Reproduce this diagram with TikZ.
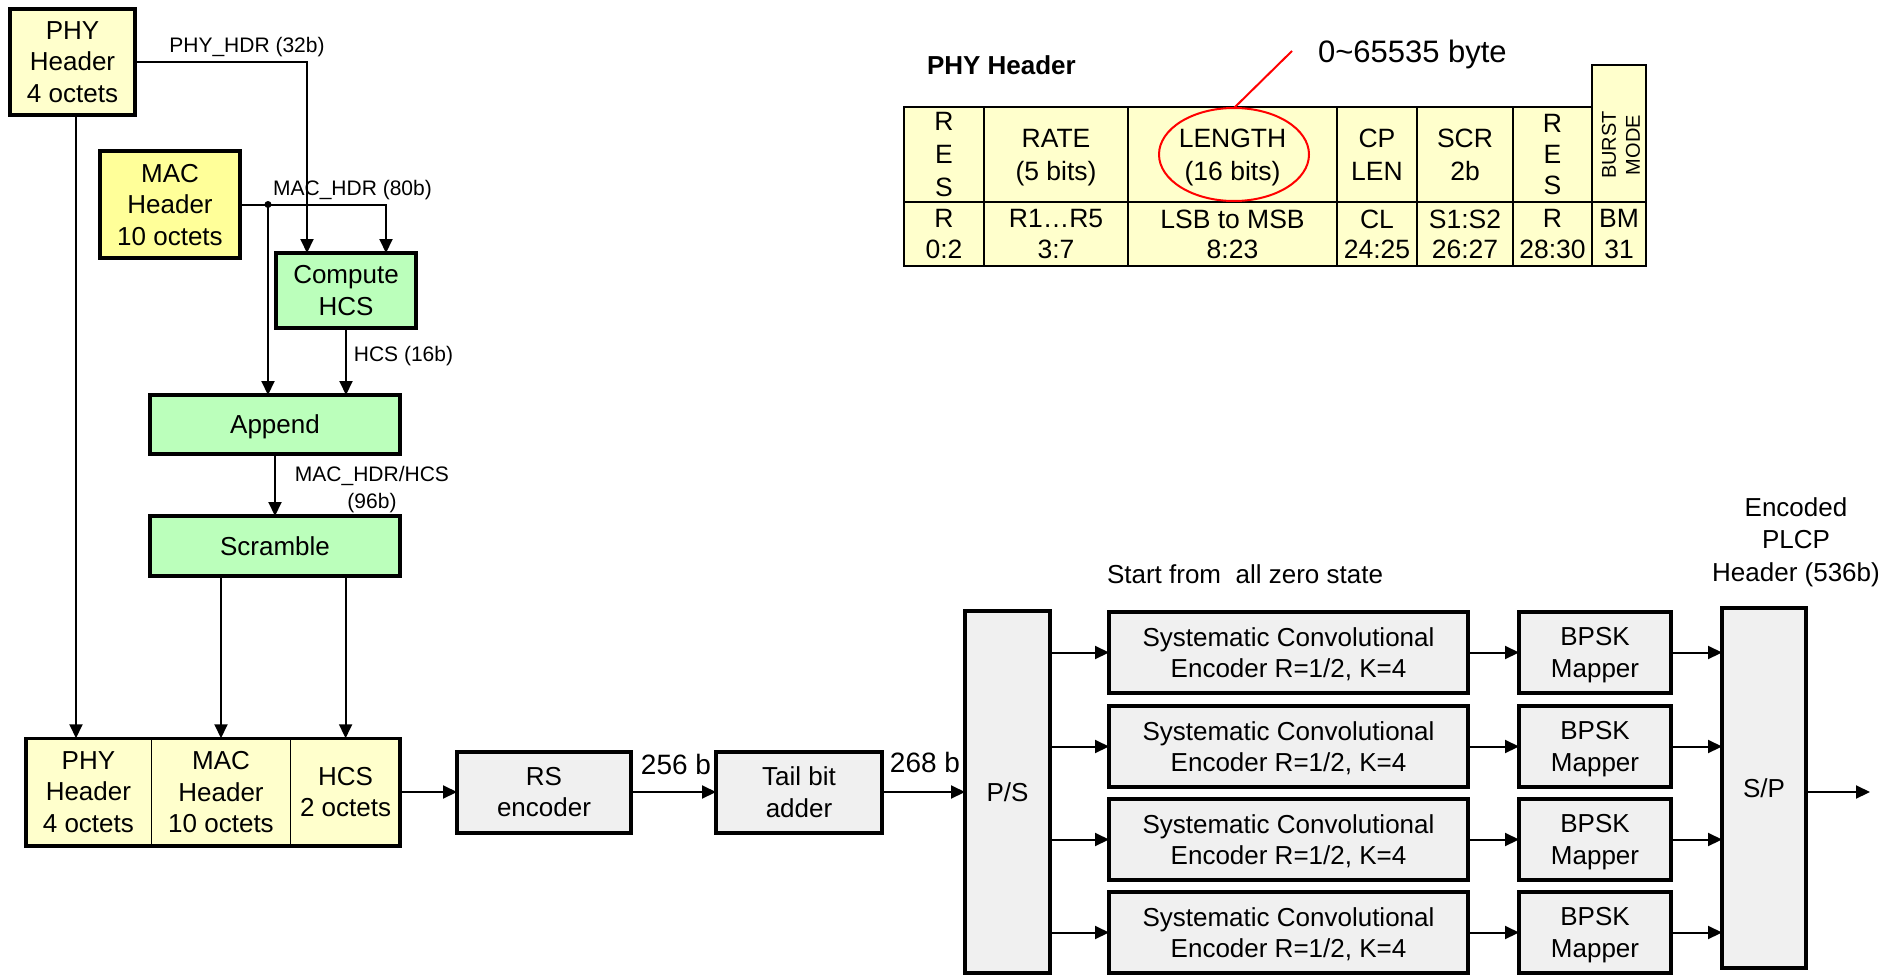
\documentclass[tikz,border=0pt]{standalone}
\usepackage{fontspec}
\setmainfont{Liberation Sans}
\usetikzlibrary{arrows.meta,calc,shapes.geometric}

\definecolor{paleyellow}{RGB}{255,255,204}
\definecolor{macyellow}{RGB}{255,255,153}
\definecolor{procgreen}{RGB}{187,255,187}
\definecolor{boxgrey}{RGB}{240,240,240}

\begin{document}
\begin{tikzpicture}[x=1pt,y=-1pt,
  every node/.style={inner sep=0pt,outer sep=0pt,align=center},
  txt/.style={font=\fontsize{26}{31.5}\selectfont},
  lbl/.style={font=\fontsize{21}{27}\selectfont},
  blk/.style={draw,line width=4pt,txt,text depth=-2pt},
  yblk/.style={blk,fill=paleyellow},
  mblk/.style={blk,fill=macyellow},
  gblk/.style={blk,fill=procgreen},
  kblk/.style={blk,fill=boxgrey},
  cellbox/.style={draw,line width=1pt,fill=paleyellow,txt,text depth=-2pt},
  tcell/.style={draw,line width=2pt,fill=paleyellow},
  toprow/.style={tcell,minimum height=95,font=\fontsize{26.5}{33}\selectfont,text depth=-2pt},
  botrow/.style={tcell,minimum height=64,font=\fontsize{26.5}{30.5}\selectfont,text depth=-4pt},
  arr/.style={line width=2pt,-{Triangle[length=14pt,width=13pt]}}
]
\useasboundingbox (0,0) rectangle (1901,977);

% ---------------- header assembly ----------------
\node[yblk,minimum width=125,minimum height=106] (phytop) at (72.5,62) {PHY\\Header\\4 octets};
\node[mblk,minimum width=140,minimum height=107] (mactop) at (170,204.5) {MAC\\Header\\10 octets};
\node[gblk,minimum width=140,minimum height=75] (hcscalc) at (346,290.5) {Compute\\HCS};
\node[gblk,minimum width=250,minimum height=59] (append) at (275,424.5) {Append};
\node[gblk,minimum width=250,minimum height=60] (scramble) at (275,546) {Scramble};

% assembled header: three cells in one frame
\node[cellbox,minimum width=125.25,minimum height=107.5] (cphy) at (88.4,792) {PHY\\Header\\4 octets};
\node[cellbox,minimum width=140,minimum height=107.5] (cmac) at (221,792) {MAC\\Header\\10 octets};
\node[cellbox,minimum width=109.25,minimum height=107.5] (chcs) at (345.6,792) {HCS\\2 octets};
\draw[line width=3.5pt] (cphy.north west) rectangle (chcs.south east);

\coordinate (xphy) at (76,0);
\coordinate (xphyhdr) at (307,0);
\coordinate (xmachdr) at (386,0);
\coordinate (xsplit) at (268,0);
\coordinate (split) at (mactop.east -| xsplit);

\draw[arr] (phytop.east) -| (xphyhdr |- hcscalc.north);
\draw[arr] (mactop.east) -| (xmachdr |- hcscalc.north);
\fill (split) circle (3.5);
\draw[arr] (split) -- (split |- append.north);
\draw[arr] (hcscalc.south) -- (hcscalc.south |- append.north);
\draw[arr] (append.south) -- (scramble.north);
\draw[arr] (phytop.south -| xphy) -- (xphy |- cphy.north);
\draw[arr] (scramble.south -| cmac.north) -- (cmac.north);
\draw[arr] (scramble.south -| chcs.north) -- (chcs.north);

\node[lbl] (lphy) at (247,47) {PHY\_HDR (32b)};
\node[lbl] (lmac) at (352.5,190) {MAC\_HDR (80b)};
\node[lbl] (lhcs) at (403.5,356) {HCS (16b)};
\node[lbl] (lmh) at (372,490) {MAC\_HDR/HCS\\(96b)};

% ---------------- encoding chain ----------------
\node[kblk,minimum width=174,minimum height=81] (rs) at (544,792) {RS\\encoder};
\node[kblk,minimum width=166,minimum height=81] (tail) at (799,792) {Tail bit\\adder};
\node[kblk,minimum width=85,minimum height=362] (ps) at (1007.5,792) {P/S};

\draw[arr] (chcs.east) -- (rs.west);
\draw[arr] (rs.east) -- (tail.west);
\draw[arr] (tail.east) -- (ps.west);
\node[font=\fontsize{28}{32}\selectfont] (l256) at (676,764) {256 b};
\node[font=\fontsize{28}{32}\selectfont] (l268) at (925,762) {268 b};

\foreach \i/\yy in {1/652.5,2/746.5,3/839.5,4/932.5}{
  \node[kblk,minimum width=359,minimum height=81] (enc\i) at (1288.5,\yy)
    {Systematic Convolutional\\Encoder R=1/2, K=4};
  \node[kblk,minimum width=152,minimum height=81] (bpsk\i) at (1595,\yy) {BPSK\\Mapper};
}
\node[kblk,minimum width=84,minimum height=360] (sp) at (1764,788) {S/P};

\foreach \i in {1,...,4}{
  \draw[arr] (ps.east |- enc\i.west) -- (enc\i.west);
  \draw[arr] (enc\i.east) -- (bpsk\i.west);
  \draw[arr] (bpsk\i.east) -- (bpsk\i.east -| sp.west);
}
\coordinate (out) at (1870,792);
\draw[arr] (sp.east |- out) -- (out);

\node[txt,anchor=west] (lstart) at (1107,574) {Start from \ all zero state};
\node[font=\fontsize{26}{32.5}\selectfont] (lplcp) at (1796,542) {Encoded\\PLCP\\Header (536b)};

% ---------------- PHY header field layout ----------------
\node[anchor=west,font=\fontsize{26}{31}\selectfont\bfseries] (ttl) at (927,65) {PHY Header};

\node[toprow,minimum width=80]  (f1) at (944,154.5)    {R\\E\\S};
\node[toprow,minimum width=144] (f2) at (1056,154.5)   {RATE\\(5 bits)};
\node[toprow,minimum width=209] (f3) at (1232.5,154.5) {LENGTH\\(16 bits)};
\node[toprow,minimum width=80]  (f4) at (1377,154.5)   {CP\\LEN};
\node[toprow,minimum width=96]  (f5) at (1465,154.5)   {SCR\\2b};
\node[toprow,minimum width=79,font=\fontsize{26.5}{31}\selectfont] (f6) at (1552.5,154.5) {R\\E\\S};
\node[tcell,minimum width=54,minimum height=137] (f7) at (1619,133.5) {};
\node[rotate=90,font=\fontsize{20}{24}\selectfont] (burst) at (1621,145) {BURST\\MODE};

\node[botrow,minimum width=80]  (b1) at (944,234)    {R\\0:2};
\node[botrow,minimum width=144] (b2) at (1056,234)   {R1…R5\\3:7};
\node[botrow,minimum width=209] (b3) at (1232.5,234) {LSB to MSB\\8:23};
\node[botrow,minimum width=80]  (b4) at (1377,234)   {CL\\24:25};
\node[botrow,minimum width=96]  (b5) at (1465,234)   {S1:S2\\26:27};
\node[botrow,minimum width=79]  (b6) at (1552.5,234) {R\\28:30};
\node[botrow,minimum width=54]  (b7) at (1619,234)   {BM\\31};

\node[ellipse,draw=red,line width=2pt,minimum width=150,minimum height=93] (lenmark) at (1234,154.5) {};
\coordinate (lenlead) at (1292,51);
\draw[red,line width=2pt] (lenmark.north) -- (lenlead);
\node[font=\fontsize{31}{36}\selectfont,anchor=west] (lenrange) at (1318,54) {0\textasciitilde 65535 byte};

\end{tikzpicture}
\end{document}
